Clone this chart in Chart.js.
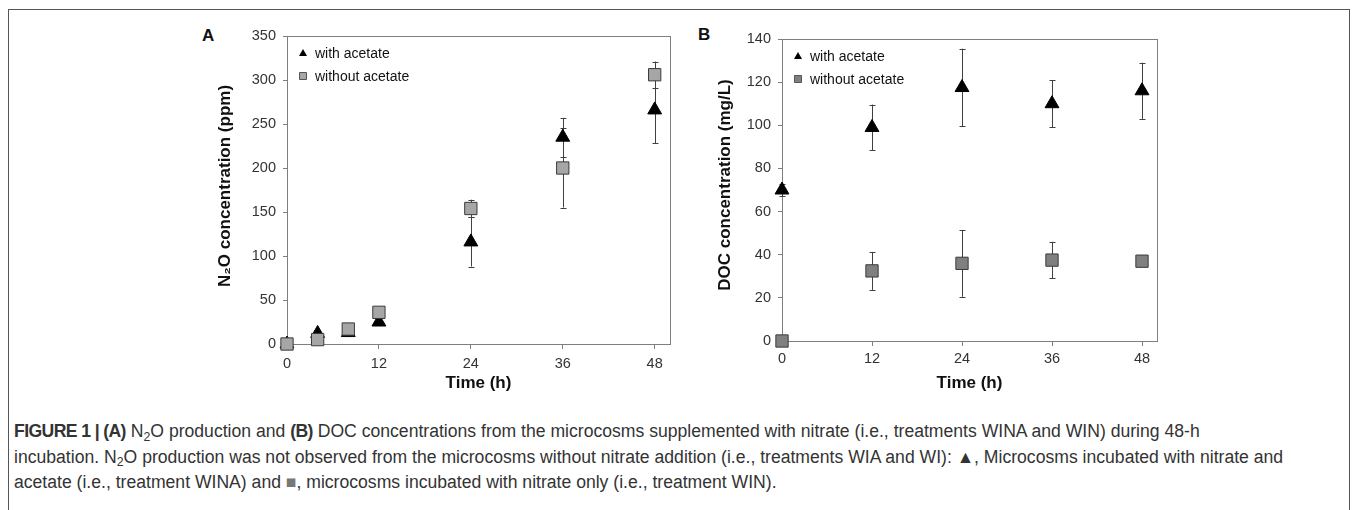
<!DOCTYPE html>
<html>
<head>
<meta charset="utf-8">
<script src="https://cdn.jsdelivr.net/npm/chart.js@4.4.1/dist/chart.umd.min.js"></script>
<style>
  body { margin: 0; background: #fff; width: 1358px; height: 510px; overflow: hidden; position: relative;
         font-family: "Liberation Sans", Arial, sans-serif; }
  #frame { position: absolute; left: 8px; top: 9px; width: 1342px; height: 530px; border: 1px solid #555; box-sizing: border-box; }
  canvas { position: absolute; }
  .letter { position: absolute; font: bold 17px "Liberation Sans", Arial, sans-serif; color: #111; }
  #caption { position: absolute; left: 14px; top: 420px; font-size: 17.6px; line-height: 23.5px; color: #333; white-space: nowrap; }
  #caption b { letter-spacing: -0.6px; }
  #caption sub { font-size: 70%; vertical-align: baseline; position: relative; top: 0.3em; }
</style>
</head>
<body>
<div id="frame"></div>
<div class="letter" style="left:202px;top:26px">A</div>
<div class="letter" style="left:698px;top:25px">B</div>
<canvas id="chartA" width="510" height="375" style="left:180px;top:20px"></canvas>
<canvas id="chartB" width="500" height="375" style="left:680px;top:20px"></canvas>
<div id="caption">
  <b>FIGURE 1 | (A)</b> N<sub>2</sub>O production and <b>(B)</b> DOC concentrations from the microcosms supplemented with nitrate (i.e., treatments WINA and WIN) during 48-h<br>
  incubation. N<sub>2</sub>O production was not observed from the microcosms without nitrate addition (i.e., treatments WIA and WI): ▲, Microcosms incubated with nitrate and<br>
  acetate (i.e., treatment WINA) and <span style="color:#777">■</span>, microcosms incubated with nitrate only (i.e., treatment WIN).
</div>
<script>
// ---- data ----
const timeTicks = [0, 12, 24, 36, 48];

// panel A: N2O (ppm)
const timesA = [0, 4, 8, 12, 24, 36, 48];
const withAcetateA = [0, 12, 13, 25, 116, 235, 266];
const withAcetateErrA = [0, 0, 0, 0, 28, 22, 38];
const withoutAcetateA = [0, 5, 17, 36, 154, 200, 306];
const withoutAcetateErrA = [0, 0, 0, 0, 10, 45, 15];
const yTicksA = [0, 50, 100, 150, 200, 250, 300, 350];

// panel B: DOC (mg/L)
const timesB = [0, 12, 24, 36, 48];
const withAcetateB = [70, 99, 117.5, 110, 116];
const withAcetateErrB = [3, 10.6, 18, 11, 13];
const withoutAcetateB = [0, 32.5, 36, 37.5, 37];
const withoutAcetateErrB = [0, 8.8, 15.5, 8.5, 0];
const yTicksB = [0, 20, 40, 60, 80, 100, 120, 140];

const toPoints = (xs, ys) => xs.map((x, i) => ({ x: x, y: ys[i] }));

// error bars drawn under the markers
const errorBars = {
  id: 'errorBars',
  beforeDatasetsDraw(chart) {
    const ctx = chart.ctx, ys = chart.scales.y;
    ctx.save();
    ctx.strokeStyle = '#404040';
    ctx.lineWidth = 1;
    chart.data.datasets.forEach((ds, i) => {
      if (!ds.errors) return;
      chart.getDatasetMeta(i).data.forEach((pt, j) => {
        const e = ds.errors[j];
        if (!e) return;
        const v = ds.data[j].y;
        const top = ys.getPixelForValue(v + e), bot = ys.getPixelForValue(v - e);
        const x = Math.round(pt.x) + 0.5;
        ctx.beginPath();
        ctx.moveTo(x, top); ctx.lineTo(x, bot);
        ctx.moveTo(x - 3, Math.round(top) + 0.5); ctx.lineTo(x + 3, Math.round(top) + 0.5);
        ctx.moveTo(x - 3, Math.round(bot) + 0.5); ctx.lineTo(x + 3, Math.round(bot) + 0.5);
        ctx.stroke();
      });
    });
    ctx.restore();
  }
};

// box round the plot area
const plotBox = {
  id: 'plotBox',
  beforeDatasetsDraw(chart) {
    const a = chart.chartArea, ctx = chart.ctx;
    ctx.save();
    ctx.strokeStyle = '#7f7f7f';
    ctx.lineWidth = 1;
    ctx.strokeRect(Math.round(a.left) + 0.5, Math.round(a.top) + 0.5, Math.round(a.right - a.left), Math.round(a.bottom - a.top));
    ctx.restore();
  }
};

// legend inside the plot + rotated y title
const insideLegend = {
  id: 'insideLegend',
  afterDraw(chart, args, opts) {
    const ctx = chart.ctx, a = chart.chartArea;
    ctx.save();
    ctx.font = '14px "Liberation Sans", Arial, sans-serif';
    ctx.textBaseline = 'middle';
    chart.data.datasets.forEach((ds, i) => {
      const cx = a.left + 16, cy = a.top + 17 + i * 23;
      ctx.beginPath();
      if (ds.pointStyle === 'triangle') {
        ctx.moveTo(cx, cy - 4); ctx.lineTo(cx + 4, cy + 3); ctx.lineTo(cx - 4, cy + 3); ctx.closePath();
        ctx.fillStyle = '#000'; ctx.fill();
      } else {
        ctx.rect(cx - 3.5, cy - 3.5, 7, 7);
        ctx.fillStyle = ds.backgroundColor; ctx.fill();
        ctx.strokeStyle = '#555'; ctx.lineWidth = 1; ctx.stroke();
      }
      ctx.fillStyle = '#111';
      ctx.fillText(ds.label, cx + 12, cy + 1);
    });
    ctx.font = 'bold 17px "Liberation Sans", Arial, sans-serif';
    ctx.textAlign = 'center';
    ctx.translate(opts.titleX, opts.titleY);
    ctx.rotate(-Math.PI / 2);
    ctx.fillText(opts.title, 0, 0);
    ctx.restore();
  }
};

function makeChart(id, cfg) {
  const axisColor = '#7f7f7f';
  new Chart(document.getElementById(id), {
    type: 'scatter',
    data: {
      datasets: [
        {
          label: 'with acetate', data: cfg.withPts, errors: cfg.withErr, order: 2,
          pointStyle: 'triangle', pointRadius: 8, backgroundColor: '#000', borderColor: '#000', borderWidth: 1, clip: false
        },
        {
          label: 'without acetate', data: cfg.withoutPts, errors: cfg.withoutErr, order: 1,
          pointStyle: 'rect', pointRadius: 8.7, backgroundColor: cfg.squareColor, borderColor: '#3a3a3a', borderWidth: 1, clip: false
        }
      ]
    },
    options: {
      responsive: false,
      animation: false,
      layout: { padding: cfg.padding },
      scales: {
        x: {
          type: 'linear', min: 0, max: 50,
          afterBuildTicks: s => { s.ticks = timeTicks.map(v => ({ value: v })); },
          afterFit: s => { s.height = cfg.xHeight; },
          grid: { display: true, drawOnChartArea: false, tickLength: 5, color: axisColor },
          border: { color: axisColor },
          ticks: { font: { size: 14.5 }, color: '#333', padding: cfg.xPad },
          title: { display: true, text: 'Time (h)', font: { size: 17, weight: 'bold' }, color: '#111', padding: { top: 0, bottom: 1 } }
        },
        y: {
          min: 0, max: cfg.yTicks[cfg.yTicks.length - 1],
          afterBuildTicks: s => { s.ticks = cfg.yTicks.map(v => ({ value: v })); },
          afterFit: s => { s.width = cfg.yWidth; },
          grid: { display: true, drawOnChartArea: false, tickLength: 4, color: axisColor },
          border: { color: axisColor },
          ticks: { font: { size: 14.5 }, color: '#333', padding: 7 }
        }
      },
      plugins: {
        legend: { display: false },
        tooltip: { enabled: false },
        insideLegend: { title: cfg.title, titleX: cfg.titleX, titleY: cfg.titleY }
      }
    },
    plugins: [plotBox, errorBars, insideLegend]
  });
}

makeChart('chartA', {
  withPts: toPoints(timesA, withAcetateA), withErr: withAcetateErrA,
  withoutPts: toPoints(timesA, withoutAcetateA), withoutErr: withoutAcetateErrA,
  squareColor: '#a6a6a6', yTicks: yTicksA,
  padding: { left: 0, top: 16, right: 20, bottom: 0 }, yWidth: 107, xHeight: 51, xPad: 6,
  title: 'N\u2082O concentration (ppm)', titleX: 45, titleY: 166
});

makeChart('chartB', {
  withPts: toPoints(timesB, withAcetateB), withErr: withAcetateErrB,
  withoutPts: toPoints(timesB, withoutAcetateB), withoutErr: withoutAcetateErrB,
  squareColor: '#808080', yTicks: yTicksB,
  padding: { left: 0, top: 19, right: 23, bottom: 0 }, yWidth: 102, xHeight: 54, xPad: 4,
  title: 'DOC concentration (mg/L)', titleX: 45, titleY: 165
});
</script>
</body>
</html>
